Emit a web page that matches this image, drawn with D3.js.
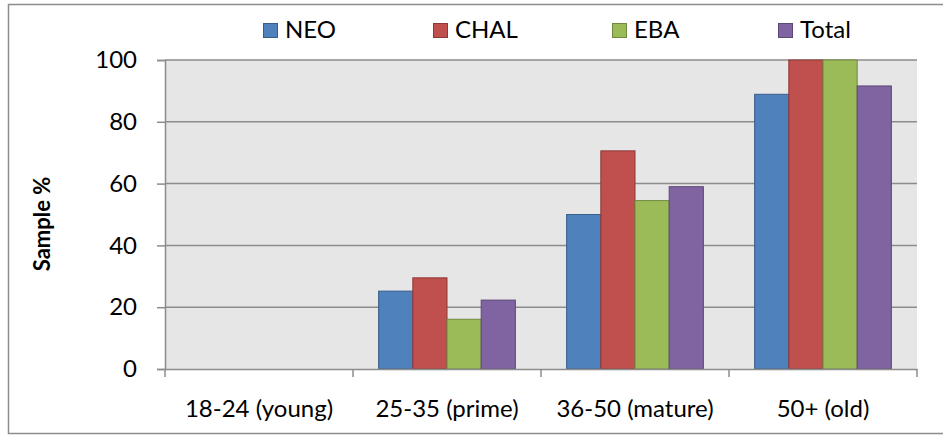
<!DOCTYPE html>
<html>
<head>
<meta charset="utf-8">
<script src="https://cdn.jsdelivr.net/npm/d3@7"></script>
<style>
  body { margin: 0; background: #fff; }
  svg text { font-family: Lato, "Open Sans", sans-serif; fill: #000; }
</style>
</head>
<body>
<svg id="chart" width="943" height="435"></svg>
<script>
// data
var categories = ['18-24 (young)', '25-35 (prime)', '36-50 (mature)', '50+ (old)'];
var seriesNames = ['NEO', 'CHAL', 'EBA', 'Total'];
var neo   = [0, 25.2, 50.0, 88.9];
var chal  = [0, 29.5, 70.6, 100];
var eba   = [0, 16.1, 54.5, 100];
var total = [0, 22.3, 59.0, 91.6];
var yTicks = [0, 20, 40, 60, 80, 100];

var fills   = ['#4F81BD', '#C0504D', '#9BBB59', '#8064A2'];
var strokes = ['#385D8A', '#8C3836', '#71893F', '#5C4776'];

var svg = d3.select('#chart');
var margin = {left: 165, right: 26, top: 60, bottom: 66};
var W = 943, H = 435;
var fs = '24px';

// outer frame (right edge runs off the picture)
svg.append('rect')
	.attr('x', 8.5).attr('y', 4.5)
	.attr('width', 940).attr('height', 429)
	.attr('fill', '#fff')
	.attr('stroke', '#8c8c8c')
	.attr('stroke-width', 1.5);

var x = d3.scaleBand().domain(categories)
	.range([margin.left, W - margin.right]);
// excel gap width ~150% -> 0.75 bar on each side
var x1 = d3.scaleBand().domain(seriesNames)
	.range([0, x.bandwidth()])
	.paddingOuter(0.75)
	.paddingInner(0);
var y = d3.scaleLinear().domain([0, 100]).range([H - margin.bottom, margin.top]);

// plot background
svg.append('rect')
	.attr('x', margin.left).attr('y', margin.top)
	.attr('width', W - margin.left - margin.right)
	.attr('height', y(0) - y(100))
	.attr('fill', '#e6e6e6');

// gridlines
svg.append('g').selectAll('line')
	.data(yTicks.filter(function(d){ return d > 0; }))
	.join('line')
	.attr('x1', margin.left).attr('x2', W - margin.right)
	.attr('y1', function(d){ return y(d); })
	.attr('y2', function(d){ return y(d); })
	.attr('stroke', '#8c8c8c')
	.attr('stroke-width', 1.5);

// bars
var rows = categories.map(function(c, i){
	return {cat: c, vals: [neo[i], chal[i], eba[i], total[i]]};
});
var groups = svg.append('g').selectAll('g')
	.data(rows)
	.join('g')
	.attr('transform', function(d){ return 'translate(' + x(d.cat) + ',0)'; });

groups.selectAll('rect')
	.data(function(d){ return d.vals.map(function(v, j){ return {name: seriesNames[j], v: v, j: j}; }); })
	.join('rect')
	.filter(function(d){ return d.v > 0; })
	.attr('x', function(d){ return x1(d.name); })
	.attr('width', x1.bandwidth())
	.attr('y', function(d){ return y(d.v); })
	.attr('height', function(d){ return y(0) - y(d.v); })
	.attr('fill', function(d){ return fills[d.j]; })
	.attr('stroke', function(d){ return strokes[d.j]; })
	.attr('stroke-width', 1);

// y axis
var yAxis = svg.append('g')
	.attr('transform', 'translate(' + margin.left + ',0)')
	.call(d3.axisLeft(y).tickValues(yTicks).tickSize(8).tickPadding(20));
yAxis.selectAll('text').style('font-size', fs);

// x axis
var xAxis = svg.append('g')
	.attr('transform', 'translate(0,' + y(0) + ')')
	.call(d3.axisBottom(x).tickSize(0));
xAxis.selectAll('text')
	.attr('y', 48).attr('dy', 0)
	.style('font-size', fs);
// category boundary ticks
xAxis.selectAll('.bound')
	.data(d3.range(categories.length + 1))
	.join('line')
	.attr('class', 'bound')
	.attr('x1', function(i){ return margin.left + i * x.step(); })
	.attr('x2', function(i){ return margin.left + i * x.step(); })
	.attr('y1', 0).attr('y2', 8)
	.attr('stroke', '#8c8c8c').attr('stroke-width', 1.5);

svg.selectAll('.domain, .tick line').attr('stroke', '#8c8c8c').attr('stroke-width', 1.5);

// y title
svg.append('text')
	.attr('transform', 'translate(50,224) rotate(-90)')
	.attr('text-anchor', 'middle')
	.style('font-size', '22px')
	.style('font-weight', 'bold')
	.text('Sample %');

// legend
var legendX = [263, 433, 612, 778];
var legend = svg.append('g').selectAll('g')
	.data(seriesNames)
	.join('g')
	.attr('transform', function(d, i){ return 'translate(' + legendX[i] + ',23)'; });
legend.append('rect')
	.attr('x', 0.5).attr('y', 0.5)
	.attr('width', 14).attr('height', 14)
	.attr('fill', function(d, i){ return fills[i]; })
	.attr('stroke', function(d, i){ return strokes[i]; })
	.attr('stroke-width', 1);
legend.append('text')
	.attr('x', 22).attr('y', 15)
	.style('font-size', fs)
	.text(function(d){ return d; });
</script>
</body>
</html>
